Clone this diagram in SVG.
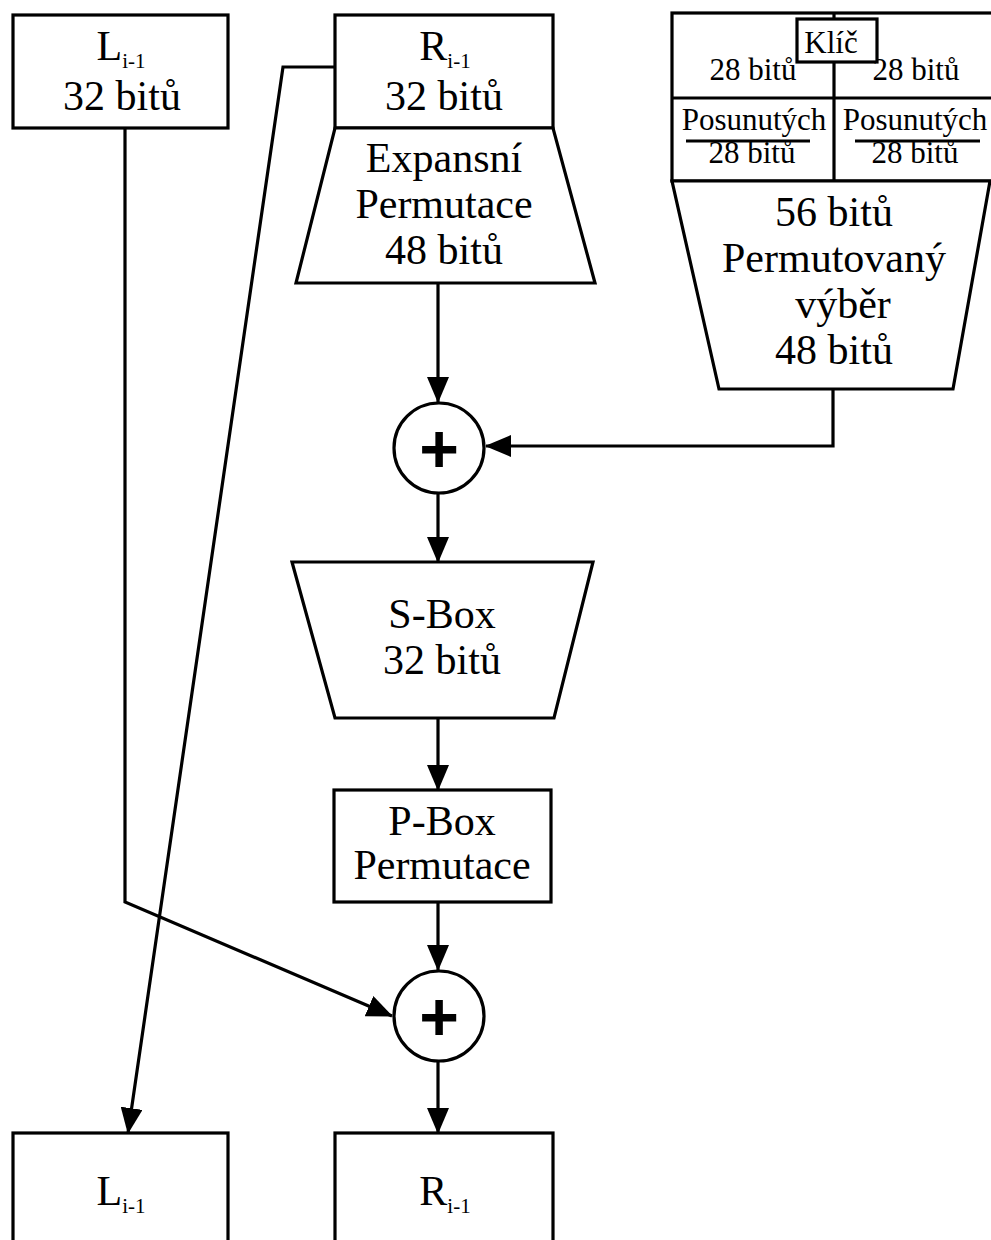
<svg xmlns="http://www.w3.org/2000/svg" width="991" height="1240" viewBox="0 0 991 1240">
<style>
.s{fill:#fff;stroke:#000;stroke-width:3.2}
.l{fill:none;stroke:#000;stroke-width:3.2}
.t{font-family:"Liberation Serif","Times New Roman",serif;font-size:42px;fill:#000;text-anchor:middle}
.k{font-family:"Liberation Serif","Times New Roman",serif;font-size:31px;fill:#000;text-anchor:middle}
.sub{font-size:21px}
.p{font-family:"Liberation Sans",Arial,sans-serif;font-weight:bold;font-size:68px;fill:#000;text-anchor:middle}
</style>
<defs>
<marker id="ah" markerWidth="26" markerHeight="22" refX="25" refY="11" orient="auto" markerUnits="userSpaceOnUse">
<path d="M0,0 L26,11 L0,22 z" fill="#000"/>
</marker>
</defs>
<rect width="991" height="1240" fill="#fff"/>

<g id="connectors">
<polyline class="l" points="335,67 283,67 128,1133" marker-end="url(#ah)"/>
<polyline class="l" points="125,128 125,902 392,1016" marker-end="url(#ah)"/>
<line class="l" x1="438" y1="283" x2="438" y2="402" marker-end="url(#ah)"/>
<polyline class="l" points="833,389 833,446 486,446" marker-end="url(#ah)"/>
<line class="l" x1="438" y1="494" x2="438" y2="562" marker-end="url(#ah)"/>
<line class="l" x1="438" y1="718" x2="438" y2="790" marker-end="url(#ah)"/>
<line class="l" x1="438" y1="902" x2="438" y2="970" marker-end="url(#ah)"/>
<line class="l" x1="438" y1="1062" x2="438" y2="1133" marker-end="url(#ah)"/>
</g>

<g id="L_in">
<rect class="s" x="13" y="15" width="215" height="113"/>
<text class="t" x="121" y="60">L<tspan class="sub" dy="8">i-1</tspan></text>
<text class="t" x="122" y="110">32 bitů</text>
</g>

<g id="R_in">
<rect class="s" x="335" y="15" width="218" height="113"/>
<text class="t" x="445" y="60">R<tspan class="sub" dy="8">i-1</tspan></text>
<text class="t" x="444" y="110">32 bitů</text>
</g>

<g id="expansion">
<polygon class="s" points="335,128 553,128 595,283 296,283"/>
<text class="t" x="444" y="172">Expansní</text>
<text class="t" x="444" y="218">Permutace</text>
<text class="t" x="444" y="264">48 bitů</text>
</g>

<g id="key">
<rect class="s" x="672" y="13" width="330" height="168"/>
<line class="l" x1="672" y1="98" x2="1000" y2="98"/>
<line class="l" x1="834" y1="13" x2="834" y2="181"/>
<text class="k" x="753" y="80">28 bitů</text>
<text class="k" x="916" y="80">28 bitů</text>
<text class="k" x="754" y="130">Posunutých</text>
<line class="l" x1="686" y1="141" x2="810" y2="141"/>
<text class="k" x="752" y="163">28 bitů</text>
<text class="k" x="915" y="130">Posunutých</text>
<line class="l" x1="855" y1="141" x2="980" y2="141"/>
<text class="k" x="915" y="163">28 bitů</text>
<rect class="s" x="797" y="19" width="80" height="43"/>
<text class="k" x="831" y="53">Klíč</text>
</g>

<g id="pc2">
<polygon class="s" points="672,181 990,181 953,389 719,389"/>
<text class="t" x="834" y="226">56 bitů</text>
<text class="t" x="834" y="272">Permutovaný</text>
<text class="t" x="843" y="318">výběr</text>
<text class="t" x="834" y="364">48 bitů</text>
</g>

<g id="xor1">
<circle class="s" cx="439" cy="448" r="45"/>
<text class="p" x="439" y="472">+</text>
</g>

<g id="sbox">
<polygon class="s" points="292,562 593,562 554,718 335,718"/>
<text class="t" x="442" y="628">S-Box</text>
<text class="t" x="442" y="674">32 bitů</text>
</g>

<g id="pbox">
<rect class="s" x="334" y="790" width="217" height="112"/>
<text class="t" x="442" y="835">P-Box</text>
<text class="t" x="442" y="879">Permutace</text>
</g>

<g id="xor2">
<circle class="s" cx="439" cy="1016" r="45"/>
<text class="p" x="439" y="1040">+</text>
</g>

<g id="L_out">
<rect class="s" x="13" y="1133" width="215" height="130"/>
<text class="t" x="121" y="1205">L<tspan class="sub" dy="8">i-1</tspan></text>
</g>

<g id="R_out">
<rect class="s" x="335" y="1133" width="218" height="130"/>
<text class="t" x="445" y="1205">R<tspan class="sub" dy="8">i-1</tspan></text>
</g>
</svg>
